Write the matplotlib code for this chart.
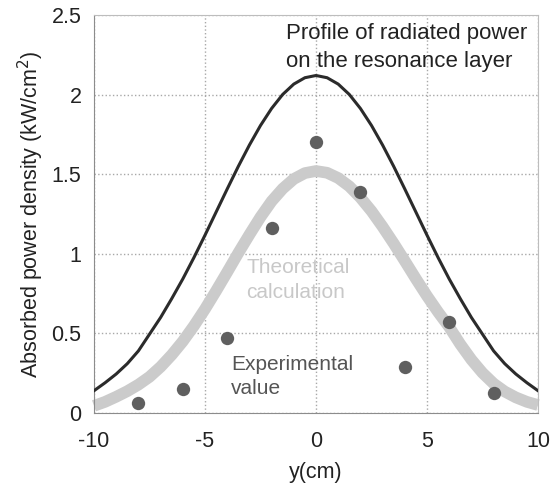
import numpy as np
import matplotlib.pyplot as plt

plt.rcParams['font.family'] = ['Liberation Sans', 'DejaVu Sans']

# posicoes em y (cm) das curvas
y_curva = [-10, -9.5, -9, -8.5, -8, -7.5, -7, -6.5, -6, -5.5, -5, -4.5, -4, -3.5, -3, -2.5, -2, -1.5, -1, -0.5,
           0, 0.5, 1, 1.5, 2, 2.5, 3, 3.5, 4, 4.5, 5, 5.5, 6, 6.5, 7, 7.5, 8, 8.5, 9, 9.5, 10]

# perfil da potencia radiada na camada de ressonancia
perfil = [0.14, 0.19, 0.245, 0.31, 0.39, 0.495, 0.60, 0.718, 0.842, 0.976, 1.117, 1.262, 1.407, 1.549, 1.683,
          1.806, 1.913, 2.001, 2.066, 2.106, 2.12, 2.106, 2.066, 2.001, 1.913, 1.806, 1.683, 1.549, 1.407,
          1.262, 1.117, 0.976, 0.842, 0.718, 0.60, 0.495, 0.39, 0.31, 0.245, 0.19, 0.14]

# calculo teorico
teorico = [0.045, 0.07, 0.102, 0.137, 0.178, 0.227, 0.29, 0.365, 0.45, 0.547, 0.653, 0.767, 0.885, 1.005, 1.12,
           1.231, 1.33, 1.409, 1.47, 1.507, 1.52, 1.509, 1.476, 1.424, 1.353, 1.268, 1.17, 1.065, 0.955,
           0.843, 0.735, 0.634, 0.54, 0.432, 0.335, 0.252, 0.185, 0.135, 0.098, 0.07, 0.05]

# valores experimentais
y_exp = [-8, -6, -4, -2, 0, 2, 4, 6, 8]
p_exp = [0.065, 0.15, 0.47, 1.16, 1.70, 1.39, 0.29, 0.57, 0.125]

fig = plt.figure(figsize=(5.58, 4.83), dpi=100)
ax = fig.add_axes([94 / 558, 70 / 483, 444 / 558, 398 / 483])

ax.plot(y_curva, teorico, color='#cbcbcb', lw=8.4, solid_capstyle='butt', solid_joinstyle='round',
        clip_on=False, zorder=2)
ax.plot(y_curva, perfil, color='#2b2b2b', lw=2.2, solid_joinstyle='round', zorder=3)
ax.plot(y_exp, p_exp, 'o', color='#5f5f5f', markersize=9.6, markeredgewidth=0, zorder=4)

ax.set_xlim(-10, 10)
ax.set_ylim(0, 2.5)
ax.set_xticks([-10, -5, 0, 5, 10])
ax.set_xticklabels(['-10', '-5', '0', '5', '10'])
ax.set_yticks([0, 0.5, 1, 1.5, 2, 2.5])
ax.set_yticklabels(['0', '0.5', '1', '1.5', '2', '2.5'])
ax.tick_params(length=0, labelsize=15.5, colors='#222222')
ax.tick_params(axis='x', pad=13)
ax.tick_params(axis='y', pad=9)
ax.grid(True, linestyle=':', color='#a8a8a8', linewidth=1.0)

for lado in ['left', 'bottom']:
    ax.spines[lado].set_color('#8c8c8c')
for lado in ['top', 'right']:
    ax.spines[lado].set_color('#bdbdbd')

ax.set_xlabel('y(cm)', fontsize=15.5, color='#222222', labelpad=7)
ax.set_ylabel('Absorbed power density (kW/cm$^2$)', fontsize=15.5, color='#222222', labelpad=4)

ax.text(-1.35, 2.296, 'Profile of radiated power\non the resonance layer', fontsize=16, color='#222222',
        va='center', linespacing=1.4)
ax.text(-3.15, 0.835, 'Theoretical\ncalculation', fontsize=15, color='#c8c8c8', va='center', linespacing=1.35)
ax.text(-3.83, 0.229, 'Experimental\nvalue', fontsize=15, color='#555555', va='center', linespacing=1.38)

plt.savefig('out.png', dpi=100)
